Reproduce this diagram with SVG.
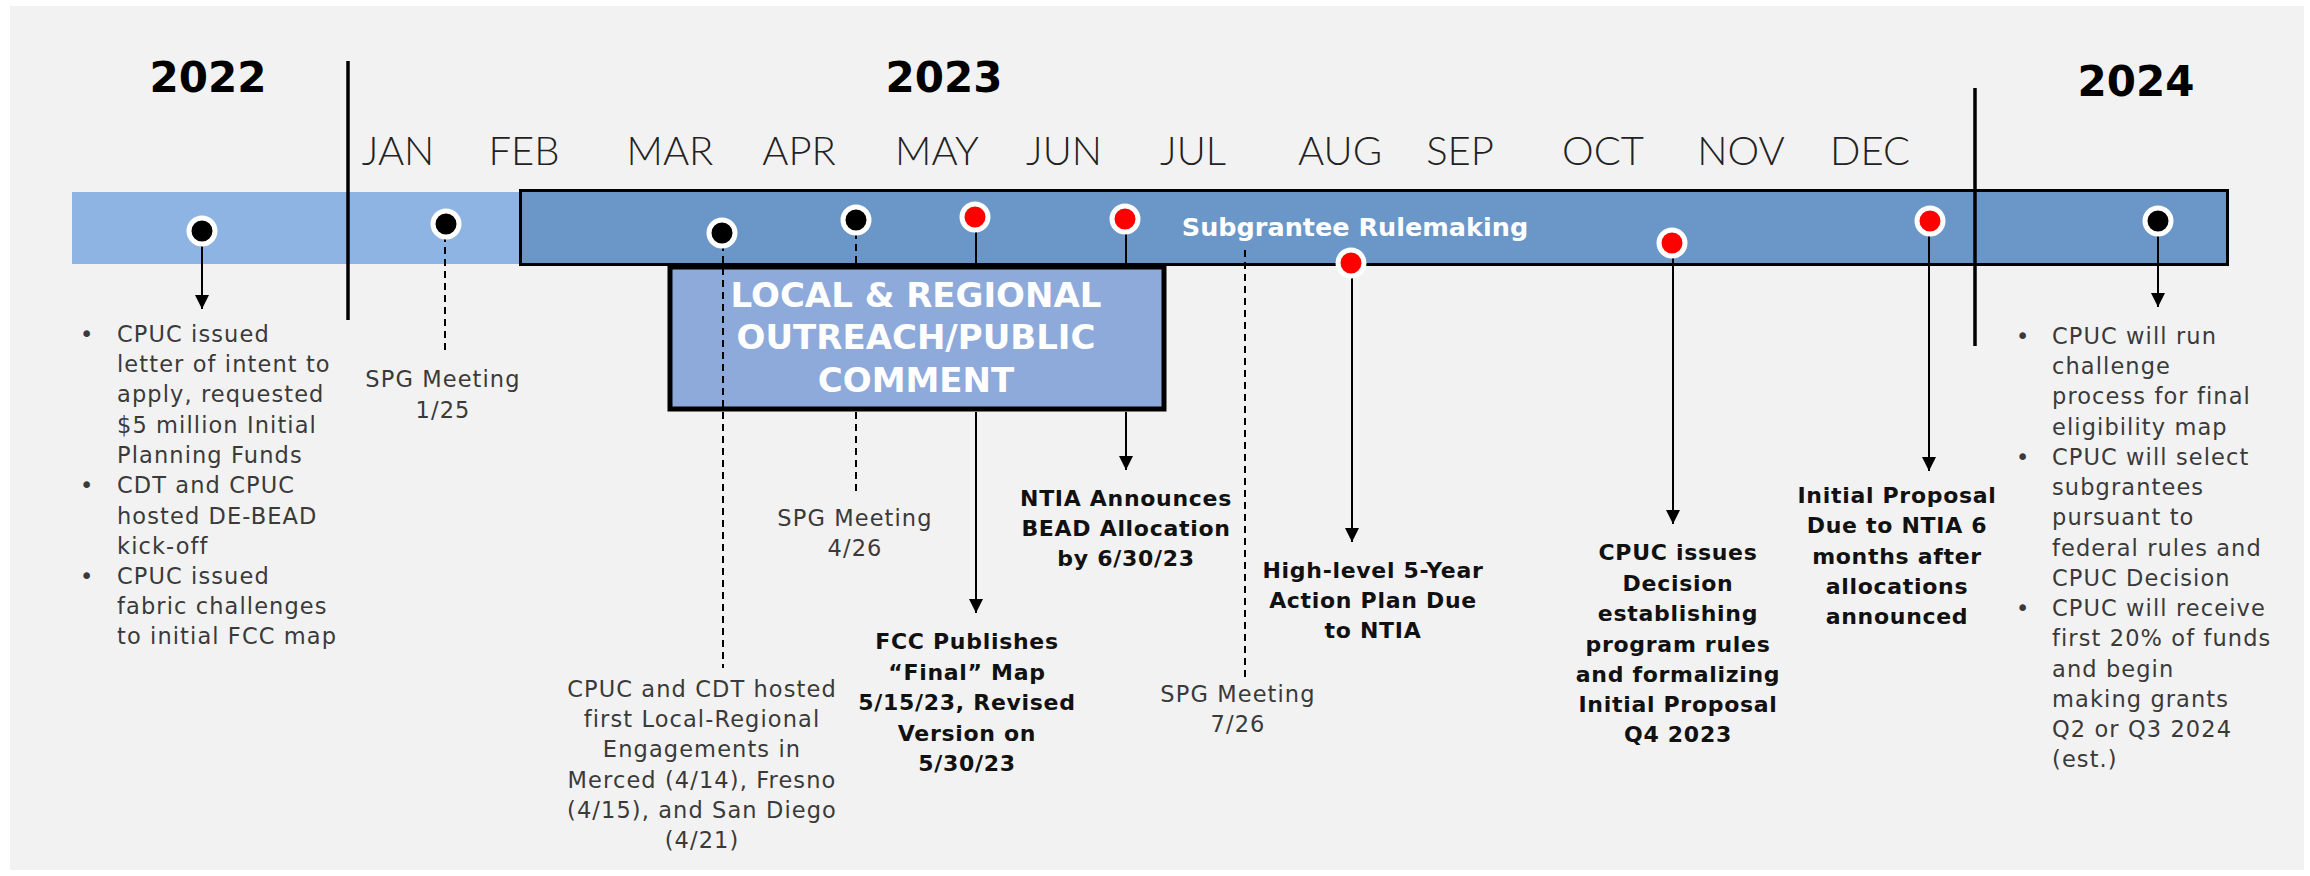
<svg xmlns="http://www.w3.org/2000/svg" width="2310" height="876" viewBox="0 0 2310 876">
<defs>
<marker id="arrow" viewBox="0 0 14 14" refX="14" refY="7" markerWidth="14" markerHeight="14" markerUnits="userSpaceOnUse" orient="auto">
<path d="M0,0 L14,7 L0,14 z" fill="#000"/>
</marker>
<style>
.year{font-family:"DejaVu Sans","Liberation Sans",sans-serif;font-weight:bold;font-size:42px;fill:#000;text-anchor:middle}
.month{font-family:Lato,"Liberation Sans",sans-serif;font-weight:300;font-size:40px;fill:#222;text-anchor:middle}
.reg{font-family:"DejaVu Sans","Liberation Sans",sans-serif;font-size:22.5px;letter-spacing:1.1px;fill:#3a3a3a}
.regc{font-family:"DejaVu Sans","Liberation Sans",sans-serif;font-size:22.5px;letter-spacing:1.1px;fill:#3a3a3a;text-anchor:middle}
.bold{font-family:"DejaVu Sans","Liberation Sans",sans-serif;font-weight:bold;font-size:22px;letter-spacing:0.7px;fill:#111;text-anchor:middle}
.white{font-family:"DejaVu Sans","Liberation Sans",sans-serif;font-weight:bold;fill:#fff;text-anchor:middle}
.solid{fill:none;stroke:#000;stroke-width:2;marker-end:url(#arrow)}
.dash{fill:none;stroke:#000;stroke-width:2;stroke-dasharray:7 5}
.dotb{fill:#000;stroke:#fff;stroke-width:5}
.dotr{fill:#ff0000;stroke:#fff;stroke-width:5}
.divider{stroke:#000;stroke-width:3.5}
</style>
</defs>
<rect x="0" y="0" width="2310" height="876" fill="#fff"/>
<rect x="10" y="6" width="2294" height="864" fill="#f2f2f2"/>

<g id="years">
<text class="year" x="208" y="92">2022</text>
<text class="year" x="944" y="92">2023</text>
<text class="year" x="2136" y="96">2024</text>
</g>

<g id="months">
<text class="month" x="398" y="165">JAN</text>
<text class="month" x="524" y="165">FEB</text>
<text class="month" x="670" y="165">MAR</text>
<text class="month" x="799" y="165">APR</text>
<text class="month" x="937" y="165">MAY</text>
<text class="month" x="1064" y="165">JUN</text>
<text class="month" x="1193" y="165">JUL</text>
<text class="month" x="1340" y="165">AUG</text>
<text class="month" x="1460" y="165">SEP</text>
<text class="month" x="1603" y="165">OCT</text>
<text class="month" x="1741" y="165">NOV</text>
<text class="month" x="1870" y="165">DEC</text>
</g>

<g id="timeline-bar">
<rect x="72" y="192" width="452" height="72" fill="#8eb4e3"/>
<rect x="520.5" y="190.5" width="1707" height="74" fill="#6a97c8" stroke="#000" stroke-width="3"/>
</g>

<g id="subgrantee-rulemaking">
<text class="white" x="1355" y="236" font-size="25.5">Subgrantee Rulemaking</text>
</g>

<g id="outreach-box">
<rect x="670" y="267" width="494" height="142" fill="#8eaadb" stroke="#000" stroke-width="5"/>
<text class="white" font-size="34" x="916" y="307">LOCAL &amp; REGIONAL</text>
<text class="white" font-size="34" x="916" y="349">OUTREACH/PUBLIC</text>
<text class="white" font-size="34" x="916" y="392">COMMENT</text>
</g>

<g id="dividers">
<line class="divider" x1="348" y1="61" x2="348" y2="320"/>
<line class="divider" x1="1975" y1="88" x2="1975" y2="346"/>
</g>

<g id="connectors">
<path class="solid" d="M202,240 V309"/>
<path class="dash" d="M445,235 V353"/>
<path class="dash" d="M723,244 V668"/>
<path class="dash" d="M856,232 V265 M856,412 V493"/>
<path class="solid" d="M976,228 V265 M976,412 V613"/>
<path class="solid" d="M1126,230 V265 M1126,412 V470"/>
<path class="dash" d="M1245,250 V677"/>
<path class="solid" d="M1352,272 V542"/>
<path class="solid" d="M1673,253 V524"/>
<path class="solid" d="M1929,232 V471"/>
<path class="solid" d="M2158,232 V307"/>
</g>

<g id="event-2022">
<circle class="dotb" cx="202" cy="231" r="13"/>
<text class="reg" x="80" y="342">•</text>
<text class="reg" x="117" y="342">CPUC issued</text>
<text class="reg" x="117" y="372">letter of intent to</text>
<text class="reg" x="117" y="402">apply, requested</text>
<text class="reg" x="117" y="433">$5 million Initial</text>
<text class="reg" x="117" y="463">Planning Funds</text>
<text class="reg" x="80" y="493">•</text>
<text class="reg" x="117" y="493">CDT and CPUC</text>
<text class="reg" x="117" y="524">hosted DE-BEAD</text>
<text class="reg" x="117" y="554">kick-off</text>
<text class="reg" x="80" y="584">•</text>
<text class="reg" x="117" y="584">CPUC issued</text>
<text class="reg" x="117" y="614">fabric challenges</text>
<text class="reg" x="117" y="644">to initial FCC map</text>
</g>

<g id="event-spg-jan">
<circle class="dotb" cx="446" cy="224" r="13"/>
<text class="regc" x="443" y="387">SPG Meeting</text>
<text class="regc" x="443" y="418">1/25</text>
</g>

<g id="event-local-engagements">
<circle class="dotb" cx="722" cy="233" r="13"/>
<text class="regc" x="702" y="697">CPUC and CDT hosted</text>
<text class="regc" x="702" y="727">first Local-Regional</text>
<text class="regc" x="702" y="757">Engagements in</text>
<text class="regc" x="702" y="788">Merced (4/14), Fresno</text>
<text class="regc" x="702" y="818">(4/15), and San Diego</text>
<text class="regc" x="702" y="848">(4/21)</text>
</g>

<g id="event-spg-apr">
<circle class="dotb" cx="856" cy="220" r="13"/>
<text class="regc" x="855" y="526">SPG Meeting</text>
<text class="regc" x="855" y="556">4/26</text>
</g>

<g id="event-fcc-map">
<circle class="dotr" cx="975" cy="217" r="13"/>
<text class="bold" x="967" y="649">FCC Publishes</text>
<text class="bold" x="967" y="680">“Final” Map</text>
<text class="bold" x="967" y="710">5/15/23, Revised</text>
<text class="bold" x="967" y="741">Version on</text>
<text class="bold" x="967" y="771">5/30/23</text>
</g>

<g id="event-ntia-allocation">
<circle class="dotr" cx="1125" cy="219" r="13"/>
<text class="bold" x="1126" y="506">NTIA Announces</text>
<text class="bold" x="1126" y="536">BEAD Allocation</text>
<text class="bold" x="1126" y="566">by 6/30/23</text>
</g>

<g id="event-spg-jul">
<text class="regc" x="1238" y="702">SPG Meeting</text>
<text class="regc" x="1238" y="732">7/26</text>
</g>

<g id="event-action-plan">
<circle class="dotr" cx="1351" cy="263" r="13"/>
<text class="bold" x="1373" y="578">High-level 5-Year</text>
<text class="bold" x="1373" y="608">Action Plan Due</text>
<text class="bold" x="1373" y="638">to NTIA</text>
</g>

<g id="event-cpuc-decision">
<circle class="dotr" cx="1672" cy="243" r="13"/>
<text class="bold" x="1678" y="560">CPUC issues</text>
<text class="bold" x="1678" y="591">Decision</text>
<text class="bold" x="1678" y="621">establishing</text>
<text class="bold" x="1678" y="652">program rules</text>
<text class="bold" x="1678" y="682">and formalizing</text>
<text class="bold" x="1678" y="712">Initial Proposal</text>
<text class="bold" x="1678" y="742">Q4 2023</text>
</g>

<g id="event-initial-proposal">
<circle class="dotr" cx="1930" cy="221" r="13"/>
<text class="bold" x="1897" y="503">Initial Proposal</text>
<text class="bold" x="1897" y="533">Due to NTIA 6</text>
<text class="bold" x="1897" y="564">months after</text>
<text class="bold" x="1897" y="594">allocations</text>
<text class="bold" x="1897" y="624">announced</text>
</g>

<g id="event-2024">
<circle class="dotb" cx="2158" cy="221" r="13"/>
<text class="reg" x="2016" y="344">•</text>
<text class="reg" x="2052" y="344">CPUC will run</text>
<text class="reg" x="2052" y="374">challenge</text>
<text class="reg" x="2052" y="404">process for final</text>
<text class="reg" x="2052" y="435">eligibility map</text>
<text class="reg" x="2016" y="465">•</text>
<text class="reg" x="2052" y="465">CPUC will select</text>
<text class="reg" x="2052" y="495">subgrantees</text>
<text class="reg" x="2052" y="525">pursuant to</text>
<text class="reg" x="2052" y="556">federal rules and</text>
<text class="reg" x="2052" y="586">CPUC Decision</text>
<text class="reg" x="2016" y="616">•</text>
<text class="reg" x="2052" y="616">CPUC will receive</text>
<text class="reg" x="2052" y="646">first 20% of funds</text>
<text class="reg" x="2052" y="677">and begin</text>
<text class="reg" x="2052" y="707">making grants</text>
<text class="reg" x="2052" y="737">Q2 or Q3 2024</text>
<text class="reg" x="2052" y="767">(est.)</text>
</g>
</svg>
